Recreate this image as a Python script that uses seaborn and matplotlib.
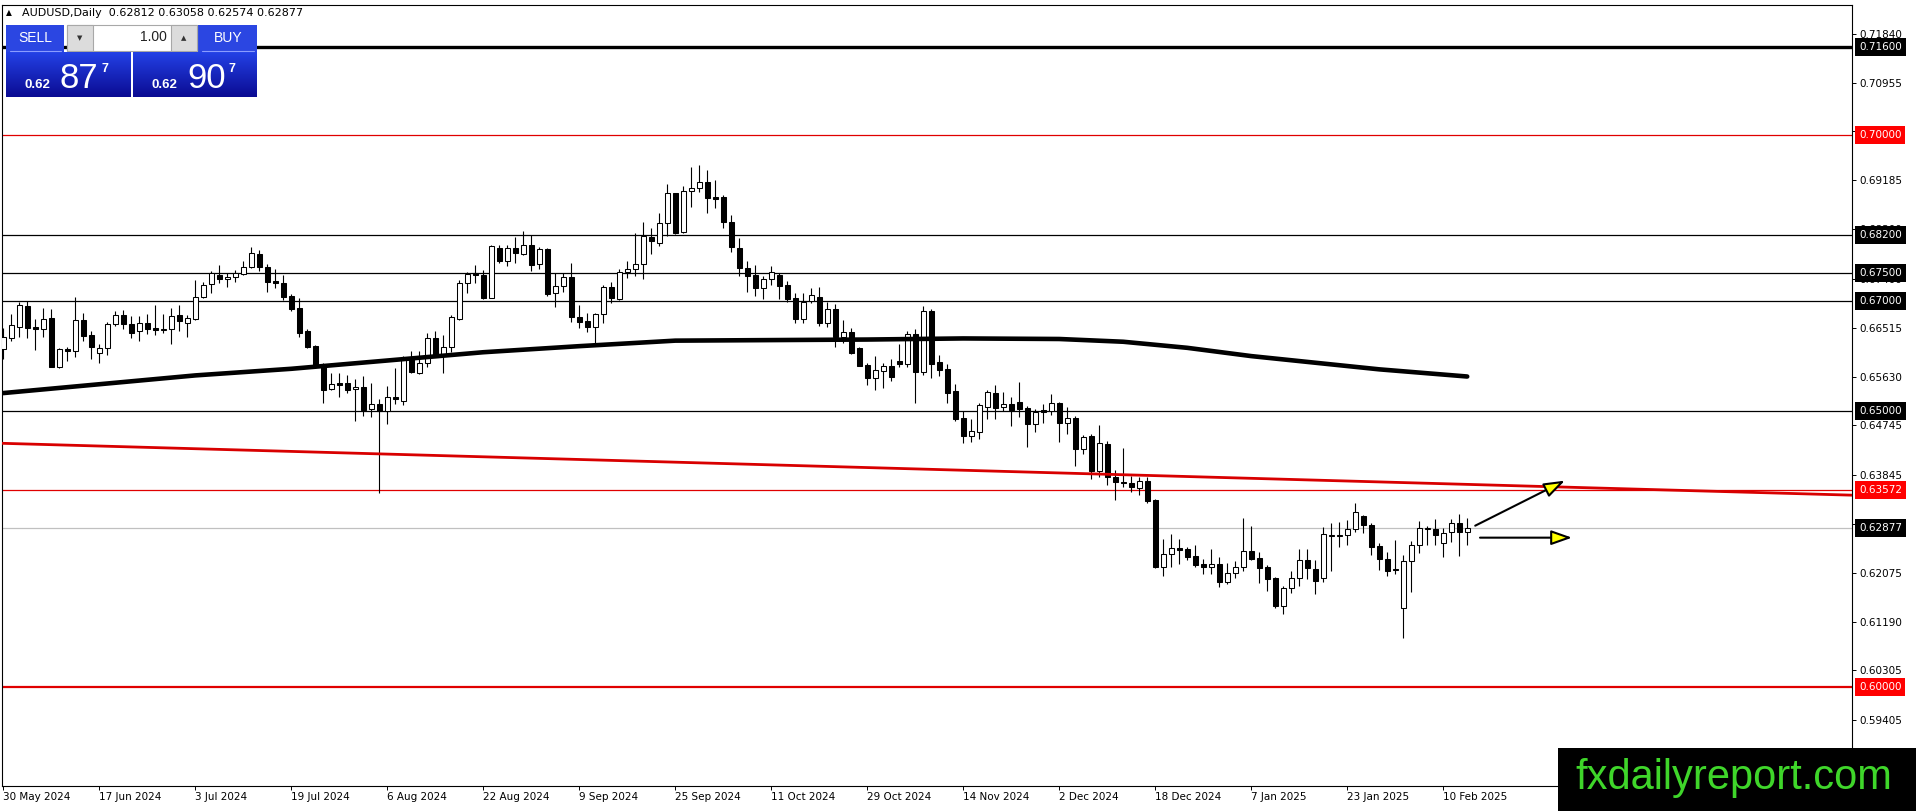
import numpy as np
import pandas as pd
import matplotlib
matplotlib.use("Agg")
import matplotlib.pyplot as plt
import seaborn as sns
from matplotlib.patches import Rectangle, FancyArrowPatch
from matplotlib.colors import LinearSegmentedColormap

# ---- daily candles AUDUSD (30 May 2024 .. 13 Feb 2025) ----
opens = [0.66123, 0.66334, 0.66534, 0.66902, 0.66522, 0.66485, 0.66685, 0.65809, 0.66129, 0.66087,
         0.66648, 0.66377, 0.66063, 0.66141, 0.66576, 0.66739, 0.66582, 0.66461, 0.66594, 0.66504,
         0.66479, 0.66485, 0.66745, 0.66606, 0.66679, 0.67065, 0.67301, 0.67470, 0.67391, 0.67440,
         0.67488, 0.67609, 0.67850, 0.67608, 0.67361, 0.67325, 0.67089, 0.66865, 0.66449, 0.66183,
         0.65839, 0.65398, 0.65507, 0.65507, 0.65398, 0.65434, 0.65035, 0.65132, 0.65011, 0.65253,
         0.65192, 0.65959, 0.65700, 0.65881, 0.66322, 0.66002, 0.66159, 0.66666, 0.67318, 0.67500,
         0.67469, 0.67059, 0.67953, 0.67730, 0.67953, 0.67851, 0.68008, 0.67663, 0.67941, 0.67138,
         0.67271, 0.67434, 0.66703, 0.66630, 0.66534, 0.66757, 0.67259, 0.67035, 0.67530, 0.67573,
         0.67663, 0.68153, 0.68044, 0.68406, 0.68950, 0.68243, 0.68986, 0.69040, 0.69149, 0.68877,
         0.68877, 0.68424, 0.67953, 0.67591, 0.67470, 0.67228, 0.67391, 0.67470, 0.67288, 0.67047,
         0.66672, 0.66998, 0.67065, 0.66606, 0.66853, 0.66352, 0.66431, 0.66141, 0.65839, 0.65609,
         0.65736, 0.65821, 0.65911, 0.65857, 0.66395, 0.65718, 0.66817, 0.65887, 0.65766, 0.65368,
         0.64872, 0.64558, 0.64619, 0.65084, 0.65325, 0.65072, 0.65133, 0.65163, 0.65054, 0.64764,
         0.65024, 0.65012, 0.65145, 0.64782, 0.64873, 0.64323, 0.64553, 0.63925, 0.64402, 0.63804,
         0.63719, 0.63695, 0.63605, 0.63737, 0.63393, 0.62173, 0.62409, 0.62517, 0.62499, 0.62373,
         0.62228, 0.62185, 0.62228, 0.61901, 0.62064, 0.62173, 0.62475, 0.62336, 0.62185, 0.61974,
         0.61479, 0.61793, 0.61974, 0.62306, 0.62137, 0.61974, 0.62741, 0.62741, 0.62753, 0.62862,
         0.63103, 0.62940, 0.62560, 0.62324, 0.62143, 0.61430, 0.62288, 0.62572, 0.62868, 0.62862,
         0.62608, 0.62807, 0.62970, 0.62812]
highs = [0.66503, 0.66763, 0.66987, 0.66999, 0.66673, 0.66866, 0.66848, 0.66141, 0.66171, 0.67065,
         0.66775, 0.66455, 0.66220, 0.66624, 0.66817, 0.66836, 0.66727, 0.66727, 0.66763, 0.66926,
         0.66763, 0.66866, 0.66926, 0.66745, 0.67379, 0.67349, 0.67548, 0.67651, 0.67500, 0.67560,
         0.67729, 0.67983, 0.67922, 0.67669, 0.67572, 0.67469, 0.67125, 0.67047, 0.66491, 0.66201,
         0.65869, 0.65700, 0.65700, 0.65657, 0.65579, 0.65639, 0.65506, 0.65216, 0.65458, 0.65778,
         0.66002, 0.66098, 0.66098, 0.66425, 0.66461, 0.66382, 0.66745, 0.67379, 0.67530, 0.67651,
         0.67560, 0.68013, 0.68013, 0.68014, 0.68152, 0.68267, 0.68195, 0.67971, 0.67953, 0.67512,
         0.67500, 0.67693, 0.66926, 0.66787, 0.66787, 0.67289, 0.67349, 0.67573, 0.67724, 0.68225,
         0.68436, 0.68316, 0.68587, 0.69119, 0.68962, 0.69083, 0.69421, 0.69463, 0.69373, 0.69191,
         0.68920, 0.68557, 0.68134, 0.67724, 0.67651, 0.67451, 0.67633, 0.67500, 0.67361, 0.67150,
         0.67137, 0.67228, 0.67258, 0.66986, 0.66944, 0.66654, 0.66503, 0.66159, 0.65881, 0.66002,
         0.65881, 0.65941, 0.66219, 0.66461, 0.66491, 0.66908, 0.66847, 0.66020, 0.65857, 0.65495,
         0.65005, 0.64854, 0.65156, 0.65386, 0.65476, 0.65356, 0.65254, 0.65525, 0.65103, 0.65036,
         0.65133, 0.65314, 0.65175, 0.65072, 0.64915, 0.64577, 0.64589, 0.64752, 0.64468, 0.63937,
         0.64329, 0.63828, 0.63816, 0.63804, 0.63405, 0.62680, 0.62777, 0.62687, 0.62548, 0.62578,
         0.62318, 0.62499, 0.62366, 0.62258, 0.62288, 0.63061, 0.62922, 0.62445, 0.62215, 0.62004,
         0.61835, 0.62107, 0.62499, 0.62499, 0.62306, 0.62910, 0.62982, 0.62994, 0.63031, 0.63333,
         0.63121, 0.62982, 0.62608, 0.62457, 0.62668, 0.62397, 0.62650, 0.63013, 0.62922, 0.63043,
         0.62892, 0.63043, 0.63139, 0.63058]
lows = [0.65942, 0.66280, 0.66340, 0.66328, 0.66111, 0.66352, 0.65800, 0.65791, 0.65917, 0.65990,
        0.66280, 0.65942, 0.65881, 0.66020, 0.66552, 0.66485, 0.66328, 0.66280, 0.66401, 0.66383,
        0.66413, 0.66220, 0.66461, 0.66340, 0.66654, 0.67047, 0.67138, 0.67331, 0.67258, 0.67343,
        0.67476, 0.67591, 0.67548, 0.67167, 0.67240, 0.67016, 0.66823, 0.66340, 0.66141, 0.65809,
        0.65156, 0.65386, 0.65265, 0.65325, 0.64830, 0.64915, 0.64890, 0.63520, 0.64770, 0.65132,
        0.65114, 0.65688, 0.65676, 0.65809, 0.65978, 0.65700, 0.66080, 0.66654, 0.67149, 0.67330,
        0.67029, 0.67047, 0.67681, 0.67639, 0.67681, 0.67833, 0.67548, 0.67579, 0.67096, 0.66884,
        0.67168, 0.66624, 0.66504, 0.66443, 0.66244, 0.66594, 0.66957, 0.67017, 0.67422, 0.67452,
        0.67404, 0.67857, 0.68002, 0.68177, 0.68213, 0.68225, 0.68708, 0.68980, 0.68587, 0.68678,
        0.68328, 0.67881, 0.67458, 0.67168, 0.67095, 0.67035, 0.67288, 0.67035, 0.66986, 0.66606,
        0.66606, 0.66956, 0.66552, 0.66533, 0.66171, 0.66243, 0.66032, 0.65821, 0.65476, 0.65386,
        0.65428, 0.65549, 0.65809, 0.65797, 0.65156, 0.65658, 0.65609, 0.65646, 0.65156, 0.64830,
        0.64432, 0.64450, 0.64498, 0.64854, 0.64860, 0.65012, 0.64734, 0.64903, 0.64360, 0.64631,
        0.64794, 0.64933, 0.64450, 0.64583, 0.64015, 0.64227, 0.63768, 0.63816, 0.63665, 0.63393,
        0.63635, 0.63544, 0.63484, 0.63345, 0.62155, 0.62022, 0.62185, 0.62228, 0.62306, 0.62185,
        0.62046, 0.62046, 0.61823, 0.61871, 0.61974, 0.62113, 0.62306, 0.61895, 0.61750, 0.61430,
        0.61321, 0.61702, 0.61835, 0.61956, 0.61684, 0.61913, 0.62113, 0.62548, 0.62578, 0.62819,
        0.62789, 0.62397, 0.62125, 0.62016, 0.62052, 0.60899, 0.61732, 0.62427, 0.62578, 0.62578,
        0.62366, 0.62638, 0.62379, 0.62574]
closes = [0.66352, 0.66558, 0.66920, 0.66516, 0.66498, 0.66679, 0.65809, 0.66123, 0.66087, 0.66648,
          0.66370, 0.66171, 0.66141, 0.66576, 0.66739, 0.66576, 0.66425, 0.66594, 0.66485, 0.66479,
          0.66491, 0.66721, 0.66630, 0.66685, 0.67077, 0.67289, 0.67500, 0.67391, 0.67428, 0.67500,
          0.67609, 0.67862, 0.67608, 0.67349, 0.67318, 0.67077, 0.66853, 0.66424, 0.66171, 0.65839,
          0.65386, 0.65488, 0.65482, 0.65386, 0.65434, 0.65023, 0.65132, 0.65011, 0.65253, 0.65217,
          0.65959, 0.65718, 0.65881, 0.66322, 0.65990, 0.66159, 0.66714, 0.67318, 0.67487, 0.67463,
          0.67059, 0.67995, 0.67729, 0.67953, 0.67863, 0.68008, 0.67651, 0.67941, 0.67126, 0.67271,
          0.67434, 0.66715, 0.66624, 0.66534, 0.66763, 0.67259, 0.67047, 0.67530, 0.67579, 0.67663,
          0.68177, 0.68092, 0.68406, 0.68950, 0.68237, 0.68986, 0.69040, 0.69149, 0.68859, 0.68847,
          0.68424, 0.67971, 0.67591, 0.67458, 0.67228, 0.67391, 0.67530, 0.67276, 0.67035, 0.66672,
          0.66986, 0.67101, 0.66606, 0.66853, 0.66352, 0.66431, 0.66062, 0.65827, 0.65609, 0.65748,
          0.65821, 0.65627, 0.65857, 0.66395, 0.65718, 0.66817, 0.65857, 0.65748, 0.65338, 0.64860,
          0.64558, 0.64637, 0.65114, 0.65344, 0.65066, 0.65133, 0.65024, 0.65042, 0.64770, 0.64994,
          0.64982, 0.65145, 0.64782, 0.64873, 0.64323, 0.64541, 0.63925, 0.64420, 0.63804, 0.63713,
          0.63695, 0.63635, 0.63737, 0.63381, 0.62185, 0.62409, 0.62517, 0.62493, 0.62354, 0.62222,
          0.62185, 0.62228, 0.61913, 0.62064, 0.62185, 0.62475, 0.62324, 0.62167, 0.61968, 0.61479,
          0.61793, 0.61974, 0.62306, 0.62155, 0.61931, 0.62777, 0.62765, 0.62765, 0.62862, 0.63170,
          0.62946, 0.62548, 0.62330, 0.62113, 0.62119, 0.62288, 0.62572, 0.62880, 0.62880, 0.62753,
          0.62789, 0.62970, 0.62807, 0.62877]

# date labels every 12 bars
date_labels = ["30 May 2024", "17 Jun 2024", "3 Jul 2024", "19 Jul 2024", "6 Aug 2024",
               "22 Aug 2024", "9 Sep 2024", "25 Sep 2024", "11 Oct 2024", "29 Oct 2024",
               "14 Nov 2024", "2 Dec 2024", "18 Dec 2024", "7 Jan 2025", "23 Jan 2025",
               "10 Feb 2025"]

# slow moving average (thick black line), sampled along the bars
ma_bars = [0, 12, 24, 36, 48, 60, 72, 84, 96, 108, 120, 132, 140, 148, 156, 164, 172, 183]
ma_vals = [0.6533, 0.6549, 0.6565, 0.6577, 0.6592, 0.6607, 0.6618, 0.6628, 0.6629, 0.6630,
           0.6632, 0.6631, 0.6626, 0.6615, 0.6600, 0.6588, 0.6576, 0.6563]

# red trend line (end points, bar / price)
trend_bars = [-0.2, 231.1]
trend_vals = [0.6442, 0.6348]

# horizontal levels
black_levels = [0.68200, 0.67500, 0.67000, 0.65000]
red_levels = [0.70000, 0.63572]
major_level = 0.71600
support_level = 0.60000
bid_level = 0.62877

y_ticks = [0.71840, 0.70955, 0.70070, 0.69185, 0.68300, 0.67400, 0.66515, 0.65630,
           0.64745, 0.63845, 0.62960, 0.62075, 0.61190, 0.60305, 0.59405]

# projection arrows (bar, price)
arrow_up = [(184.0, 0.62927), (195.2, 0.63743)]
arrow_flat = [(184.6, 0.62710), (196.1, 0.62710)]

header = "AUDUSD,Daily  0.62812 0.63058 0.62574 0.62877"

# ---------------------------------------------------------------------------
sns.set_style("white")
plt.rcParams["font.family"] = ["DejaVu Sans"]

W, H = 1916, 811
fig = plt.figure(figsize=(W / 100, H / 100), dpi=100)
fig.patch.set_facecolor("white")

ax = fig.add_axes([2 / W, 1 - 786 / H, (1852 - 2) / W, (786 - 5) / H])
ax.set_facecolor("white")

df = pd.DataFrame({"open": opens, "high": highs, "low": lows, "close": closes})
df["bar"] = np.arange(len(df))
up = df["close"] >= df["open"]
body_lo = df[["open", "close"]].min(axis=1)
body_h = (df["close"] - df["open"]).abs().clip(lower=0.00012)

# level lines behind the candles
for lv in black_levels:
    ax.axhline(lv, color="black", lw=0.9, zorder=1)
for lv in red_levels:
    ax.axhline(lv, color="#e00000", lw=0.9, zorder=1)
ax.axhline(major_level, color="black", lw=2.4, zorder=1)
ax.axhline(support_level, color="#e00000", lw=1.6, zorder=1)
ax.axhline(bid_level, color="#c0c0c0", lw=0.9, zorder=1)

# candles
ax.vlines(df["bar"], df["low"], df["high"], color="black", lw=0.8, zorder=2)
ax.bar(df["bar"][up], body_h[up], bottom=body_lo[up], width=0.6,
       color="white", edgecolor="black", linewidth=0.75, zorder=3)
ax.bar(df["bar"][~up], body_h[~up], bottom=body_lo[~up], width=0.6,
       color="black", edgecolor="black", linewidth=0.75, zorder=3)

# moving average and trend line
sns.lineplot(x=ma_bars, y=ma_vals, ax=ax, color="black", lw=3.3, zorder=4)
sns.lineplot(x=trend_bars, y=trend_vals, ax=ax, color="#d80000", lw=2.0, zorder=4)

# arrows
for (x0, y0), (x1, y1) in [arrow_up, arrow_flat]:
    ax.add_patch(FancyArrowPatch((x0, y0), (x1, y1),
                                 arrowstyle="-|>,head_length=0.85,head_width=0.3",
                                 mutation_scale=15, lw=1.5, edgecolor="black",
                                 facecolor="#ffff00", zorder=5, shrinkA=0, shrinkB=0))

ax.set_xlim(-0.16, 231.1)
ax.set_ylim(0.58210, 0.72362)

# right price axis
ax.yaxis.tick_right()
ax.set_yticks(y_ticks)
ax.set_yticklabels([f"{v:.5f}" for v in y_ticks])
ax.tick_params(axis="y", direction="out", length=3, width=0.7, pad=2,
               labelsize=7.5, colors="black", right=True, left=False)
ax.set_xticks(np.arange(len(date_labels)) * 12)
ax.set_xticklabels(date_labels)
for lbl in ax.get_xticklabels():
    lbl.set_ha("left")
ax.tick_params(axis="x", direction="out", length=3, width=0.7, pad=1.5,
               labelsize=7.5, colors="black", bottom=True)
for sp in ax.spines.values():
    sp.set_color("black")
    sp.set_linewidth(0.8)
ax.set_xlabel("")
ax.set_ylabel("")

# coloured price labels on the axis
level_boxes = [(major_level, "black"), (0.70000, "#ff0000"), (0.68200, "black"),
               (0.67500, "black"), (0.67000, "black"), (0.65000, "black"),
               (0.63572, "#ff0000"), (bid_level, "black"), (support_level, "#ff0000")]
for lv, col in level_boxes:
    ax.annotate(f"{lv:.5f}", xy=(1, lv), xycoords=("axes fraction", "data"),
                xytext=(7, 0), textcoords="offset pixels", ha="left", va="center",
                fontsize=7.5, color="white", annotation_clip=False, zorder=6,
                bbox=dict(boxstyle="square,pad=0.38", fc=col, ec="none"))

# ---- overlay in pixel coordinates: header, one-click panel, watermark ----
ov = fig.add_axes([0, 0, 1, 1], zorder=10)
ov.patch.set_alpha(0)

ov.text(6, 13, "\u25b2", fontsize=5.5, va="center", ha="left", color="black")
ov.text(22, 13, header, fontsize=8, va="center", ha="left", color="black")

btn_blue = "#2b46e2"
ov.add_patch(Rectangle((6, 25), 58, 27, fc=btn_blue, ec="none"))
ov.add_patch(Rectangle((198, 25), 59, 27, fc=btn_blue, ec="none"))
ov.plot([10, 61], [51, 51], color="#8a9cff", lw=0.8)
ov.plot([202, 254], [51, 51], color="#8a9cff", lw=0.8)
ov.text(35, 38, "SELL", fontsize=10, family=["Liberation Sans", "DejaVu Sans"],
        color="white", ha="center", va="center")
ov.text(228, 38, "BUY", fontsize=10, family=["Liberation Sans", "DejaVu Sans"],
        color="white", ha="center", va="center")
ov.add_patch(Rectangle((67, 25), 130, 26, fc="white", ec="#a8a8a8", lw=0.8))
ov.add_patch(Rectangle((67, 25), 26, 26, fc="#dcdcdc", ec="#a8a8a8", lw=0.8))
ov.add_patch(Rectangle((171, 25), 26, 26, fc="#dcdcdc", ec="#a8a8a8", lw=0.8))
ov.text(80, 38, "\u25bc", fontsize=5, color="#333333", ha="center", va="center")
ov.text(184, 38, "\u25b2", fontsize=5, color="#333333", ha="center", va="center")
ov.text(167, 37, "1.00", fontsize=10, family=["Liberation Sans", "DejaVu Sans"],
        color="#222222", ha="right", va="center")

grad_cmap = LinearSegmentedColormap.from_list("btn", ["#2341e6", "#0b0b92"])
grad = np.linspace(0, 1, 64).reshape(-1, 1)
for x0, x1 in [(6, 131), (133, 257)]:
    ov.imshow(grad, extent=(x0, x1, 97, 52), cmap=grad_cmap, aspect="auto",
              interpolation="bilinear", zorder=1)
price_font = ["Liberation Sans", "DejaVu Sans"]
for xs, big in [(25, "87"), (152, "90")]:
    ov.text(xs, 88, "0.62", fontsize=9.5, fontweight="bold", family=price_font,
            color="white", ha="left", va="baseline", zorder=2)
    ov.text(xs + 35, 88, big, fontsize=25, family=price_font,
            color="white", ha="left", va="baseline", zorder=2)
    ov.text(xs + 77, 72, "7", fontsize=9, fontweight="bold", family=price_font,
            color="white", ha="left", va="baseline", zorder=2)

# watermark
ov.add_patch(Rectangle((1558, 748), W - 1558, H - 748, fc="black", ec="none", zorder=3))
ov.text(1575, 789, "fxdailyreport.com", fontsize=30, family=price_font,
        color="#3fd62a", ha="left", va="baseline", zorder=4)

ov.set_xlim(0, W)
ov.set_ylim(H, 0)
ov.axis("off")

fig.savefig("out.png", dpi=100, facecolor="white")
